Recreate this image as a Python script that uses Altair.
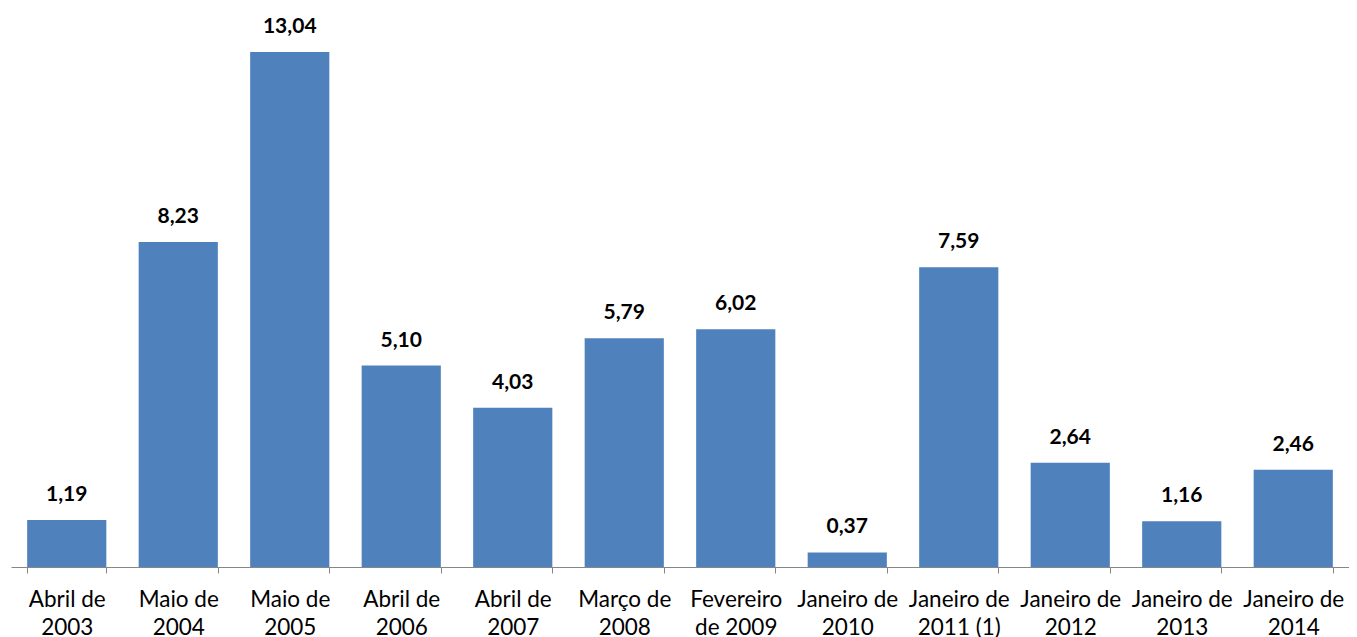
import altair as alt
import pandas as pd

categories = [
    "Abril de\n2003", "Maio de\n2004", "Maio de\n2005", "Abril de\n2006",
    "Abril de\n2007", "Março de\n2008", "Fevereiro\nde 2009", "Janeiro de\n2010",
    "Janeiro de\n2011 (1)", "Janeiro de\n2012", "Janeiro de\n2013", "Janeiro de\n2014",
]
values = [1.19, 8.23, 13.04, 5.10, 4.03, 5.79, 6.02, 0.37, 7.59, 2.64, 1.16, 2.46]

df = pd.DataFrame({"cat": categories, "val": values})

x = alt.X(
    "cat:N",
    sort=categories,
    scale=alt.Scale(paddingInner=0.29, paddingOuter=0.145),
    axis=alt.Axis(
        title=None,
        labelAngle=0,
        labelExpr="split(datum.label, '\\n')",
        labelFont="Lato",
        labelFontSize=22.5,
        labelColor="#000000",
        labelLineHeight=28,
        labelPadding=15,
        tickBand="extent",
        tickSize=6,
        tickColor="#868686",
        domainColor="#868686",
        domainWidth=1,
        labelBaseline="top",
    ),
)
y = alt.Y("val:Q", scale=alt.Scale(domain=[0, 14], nice=False, zero=True), axis=None)

bars = alt.Chart(df).mark_bar(color="#4F81BD").encode(x=x, y=y)
labels = (
    alt.Chart(df)
    .transform_calculate(lab="replace(format(datum.val, '.2f'), '.', ',')")
    .mark_text(font="Lato", fontSize=21, fontWeight="bold", color="#000000", baseline="alphabetic", dy=-19)
    .encode(x=x, y=y, text="lab:N")
)

chart = (
    alt.layer(bars, labels)
    .properties(width=1338, height=553, padding={"left": 3, "top": 6, "right": 0, "bottom": 0})
    .configure_view(stroke=None)
)
chart.save("out.html", embed_options={"renderer": "svg", "actions": False})
